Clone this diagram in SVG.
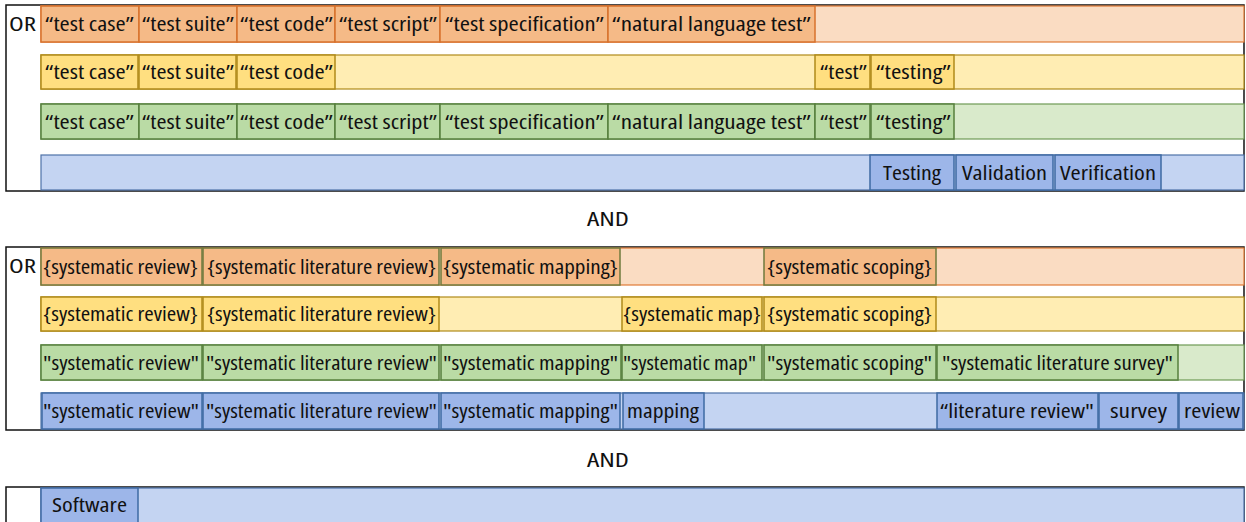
<svg xmlns="http://www.w3.org/2000/svg" width="1246" height="522" viewBox="0 0 1246 522">
<style>
text{font-family:"Open Sans","Noto Sans","Liberation Sans",sans-serif;font-size:19px;fill:#111;dominant-baseline:central;font-stretch:semi-condensed}
.frame{fill:#fff;stroke:#111;stroke-width:1.5}
.bo{fill:#FADCC2;stroke:#E07B36;stroke-width:1.2}
.co{fill:#F5BA87;stroke:#D7722C;stroke-width:1.5}
.co2{fill:#F5BA87;stroke:#6F7A3C;stroke-width:1.5}
.by{fill:#FFEDB3;stroke:#B08A1A;stroke-width:1.2}
.cy{fill:#FFDF80;stroke:#B08A1A;stroke-width:1.5}
.bg{fill:#D9EACB;stroke:#6E9A55;stroke-width:1.2}
.cg{fill:#BADBA5;stroke:#567F3D;stroke-width:1.5}
.bb{fill:#C4D4F2;stroke:#4F72A8;stroke-width:1.2}
.cb{fill:#9DB6E9;stroke:#3E6AA3;stroke-width:1.5}
</style>

<!-- Panel 1 -->
<g id="panel1">
<rect class="frame" x="6" y="5" width="1238" height="186"/>
<text x="9" y="24" textLength="27" lengthAdjust="spacingAndGlyphs">OR</text>
<rect class="bo" x="41" y="6" width="1203" height="36"/>
<rect class="by" x="41" y="55" width="1203" height="34"/>
<rect class="bg" x="41" y="104" width="1203" height="35"/>
<rect class="bb" x="41" y="155" width="1203" height="35"/>
</g>
<g id="p1r1">
<g id="p1r1c1"><rect class="co" x="41" y="6" width="98" height="36"/><text x="45" y="24" textLength="89" lengthAdjust="spacingAndGlyphs">“test case”</text></g>
<g id="p1r1c2"><rect class="co" x="139" y="6" width="98" height="36"/><text x="142" y="24" textLength="92" lengthAdjust="spacingAndGlyphs">“test suite”</text></g>
<g id="p1r1c3"><rect class="co" x="237" y="6" width="98" height="36"/><text x="240" y="24" textLength="93" lengthAdjust="spacingAndGlyphs">“test code”</text></g>
<g id="p1r1c4"><rect class="co" x="335" y="6" width="105" height="36"/><text x="339" y="24" textLength="98" lengthAdjust="spacingAndGlyphs">“test script”</text></g>
<g id="p1r1c5"><rect class="co" x="440" y="6" width="168" height="36"/><text x="445" y="24" textLength="159" lengthAdjust="spacingAndGlyphs">“test specification”</text></g>
<g id="p1r1c6"><rect class="co" x="608" y="6" width="207" height="36"/><text x="612" y="24" textLength="199" lengthAdjust="spacingAndGlyphs">“natural language test”</text></g>
</g>
<g id="p1r2">
<g id="p1r2c1"><rect class="cy" x="41" y="55" width="97" height="34"/><text x="45" y="72" textLength="89" lengthAdjust="spacingAndGlyphs">“test case”</text></g>
<g id="p1r2c2"><rect class="cy" x="139" y="55" width="97" height="34"/><text x="142" y="72" textLength="92" lengthAdjust="spacingAndGlyphs">“test suite”</text></g>
<g id="p1r2c3"><rect class="cy" x="237" y="55" width="98" height="34"/><text x="240" y="72" textLength="93" lengthAdjust="spacingAndGlyphs">“test code”</text></g>
<g id="p1r2c4"><rect class="cy" x="815" y="55" width="55" height="34"/><text x="820" y="72" textLength="47" lengthAdjust="spacingAndGlyphs">“test”</text></g>
<g id="p1r2c5"><rect class="cy" x="871" y="55" width="83" height="34"/><text x="876" y="72" textLength="75" lengthAdjust="spacingAndGlyphs">“testing”</text></g>
</g>
<g id="p1r3">
<g id="p1r3c1"><rect class="cg" x="41" y="104" width="98" height="35"/><text x="45" y="121.5" textLength="89" lengthAdjust="spacingAndGlyphs">“test case”</text></g>
<g id="p1r3c2"><rect class="cg" x="139" y="104" width="98" height="35"/><text x="142" y="121.5" textLength="92" lengthAdjust="spacingAndGlyphs">“test suite”</text></g>
<g id="p1r3c3"><rect class="cg" x="237" y="104" width="98" height="35"/><text x="240" y="121.5" textLength="93" lengthAdjust="spacingAndGlyphs">“test code”</text></g>
<g id="p1r3c4"><rect class="cg" x="335" y="104" width="105" height="35"/><text x="339" y="121.5" textLength="98" lengthAdjust="spacingAndGlyphs">“test script”</text></g>
<g id="p1r3c5"><rect class="cg" x="440" y="104" width="168" height="35"/><text x="445" y="121.5" textLength="159" lengthAdjust="spacingAndGlyphs">“test specification”</text></g>
<g id="p1r3c6"><rect class="cg" x="608" y="104" width="207" height="35"/><text x="612" y="121.5" textLength="199" lengthAdjust="spacingAndGlyphs">“natural language test”</text></g>
<g id="p1r3c7"><rect class="cg" x="815" y="104" width="55" height="35"/><text x="820" y="121.5" textLength="47" lengthAdjust="spacingAndGlyphs">“test”</text></g>
<g id="p1r3c8"><rect class="cg" x="871" y="104" width="83" height="35"/><text x="876" y="121.5" textLength="75" lengthAdjust="spacingAndGlyphs">“testing”</text></g>
</g>
<g id="p1r4">
<g id="p1r4c1"><rect class="cb" x="870" y="155" width="84" height="35"/><text x="883" y="172.5" textLength="58" lengthAdjust="spacingAndGlyphs">Testing</text></g>
<g id="p1r4c2"><rect class="cb" x="956" y="155" width="97" height="35"/><text x="962" y="172.5" textLength="85" lengthAdjust="spacingAndGlyphs">Validation</text></g>
<g id="p1r4c3"><rect class="cb" x="1055" y="155" width="106" height="35"/><text x="1060" y="172.5" textLength="96" lengthAdjust="spacingAndGlyphs">Verification</text></g>
</g>

<g id="and1"><text x="587" y="219" textLength="42" lengthAdjust="spacingAndGlyphs">AND</text></g>

<!-- Panel 2 -->
<g id="panel2">
<rect class="frame" x="6" y="247" width="1238" height="183"/>
<text x="9" y="266" textLength="27" lengthAdjust="spacingAndGlyphs">OR</text>
<rect class="bo" x="41" y="248" width="1203" height="37"/>
<rect class="by" x="41" y="297" width="1203" height="34"/>
<rect class="bg" x="41" y="345" width="1203" height="35"/>
<rect class="bb" x="41" y="393" width="1203" height="36"/>
</g>
<g id="p2r1">
<g id="p2r1c1"><rect class="co2" x="41" y="248" width="161" height="37"/><text x="43" y="266.5" textLength="155" lengthAdjust="spacingAndGlyphs">{systematic review}</text></g>
<g id="p2r1c2"><rect class="co2" x="203" y="248" width="236" height="37"/><text x="207" y="266.5" textLength="229" lengthAdjust="spacingAndGlyphs">{systematic literature review}</text></g>
<g id="p2r1c3"><rect class="co2" x="441" y="248" width="179" height="37"/><text x="443" y="266.5" textLength="175" lengthAdjust="spacingAndGlyphs">{systematic mapping}</text></g>
<g id="p2r1c4"><rect class="co2" x="764" y="248" width="172" height="37"/><text x="767" y="266.5" textLength="165" lengthAdjust="spacingAndGlyphs">{systematic scoping}</text></g>
</g>
<g id="p2r2">
<g id="p2r2c1"><rect class="cy" x="41" y="297" width="161" height="34"/><text x="43" y="314" textLength="155" lengthAdjust="spacingAndGlyphs">{systematic review}</text></g>
<g id="p2r2c2"><rect class="cy" x="203" y="297" width="236" height="34"/><text x="207" y="314" textLength="229" lengthAdjust="spacingAndGlyphs">{systematic literature review}</text></g>
<g id="p2r2c3"><rect class="cy" x="622" y="297" width="140" height="34"/><text x="623" y="314" textLength="138" lengthAdjust="spacingAndGlyphs">{systematic map}</text></g>
<g id="p2r2c4"><rect class="cy" x="764" y="297" width="172" height="34"/><text x="767" y="314" textLength="165" lengthAdjust="spacingAndGlyphs">{systematic scoping}</text></g>
</g>
<g id="p2r3">
<g id="p2r3c1"><rect class="cg" x="41" y="345" width="161" height="35"/><text x="43" y="362.5" textLength="156" lengthAdjust="spacingAndGlyphs">"systematic review"</text></g>
<g id="p2r3c2"><rect class="cg" x="203" y="345" width="236" height="35"/><text x="206" y="362.5" textLength="231" lengthAdjust="spacingAndGlyphs">"systematic literature review"</text></g>
<g id="p2r3c3"><rect class="cg" x="441" y="345" width="180" height="35"/><text x="443" y="362.5" textLength="175" lengthAdjust="spacingAndGlyphs">"systematic mapping"</text></g>
<g id="p2r3c4"><rect class="cg" x="622" y="345" width="140" height="35"/><text x="623" y="362.5" textLength="133" lengthAdjust="spacingAndGlyphs">"systematic map"</text></g>
<g id="p2r3c5"><rect class="cg" x="764" y="345" width="172" height="35"/><text x="767" y="362.5" textLength="165" lengthAdjust="spacingAndGlyphs">"systematic scoping"</text></g>
<g id="p2r3c6"><rect class="cg" x="937" y="345" width="241" height="35"/><text x="942" y="362.5" textLength="231" lengthAdjust="spacingAndGlyphs">"systematic literature survey"</text></g>
</g>
<g id="p2r4">
<g id="p2r4c1"><rect class="cb" x="42" y="393" width="160" height="36"/><text x="43" y="411" textLength="156" lengthAdjust="spacingAndGlyphs">"systematic review"</text></g>
<g id="p2r4c2"><rect class="cb" x="203" y="393" width="236" height="36"/><text x="206" y="411" textLength="231" lengthAdjust="spacingAndGlyphs">"systematic literature review"</text></g>
<g id="p2r4c3"><rect class="cb" x="441" y="393" width="179" height="36"/><text x="443" y="411" textLength="175" lengthAdjust="spacingAndGlyphs">"systematic mapping"</text></g>
<g id="p2r4c4"><rect class="cb" x="623" y="393" width="81" height="36"/><text x="627" y="411" textLength="72" lengthAdjust="spacingAndGlyphs">mapping</text></g>
<g id="p2r4c5"><rect class="cb" x="937" y="393" width="161" height="36"/><text x="940" y="411" textLength="154" lengthAdjust="spacingAndGlyphs">“literature review"</text></g>
<g id="p2r4c6"><rect class="cb" x="1099" y="393" width="79" height="36"/><text x="1110" y="411" textLength="57" lengthAdjust="spacingAndGlyphs">survey</text></g>
<g id="p2r4c7"><rect class="cb" x="1179" y="393" width="64" height="36"/><text x="1184" y="411" textLength="56" lengthAdjust="spacingAndGlyphs">review</text></g>
</g>

<g id="and2"><text x="587" y="460" textLength="42" lengthAdjust="spacingAndGlyphs">AND</text></g>

<!-- Panel 3 -->
<g id="panel3">
<rect class="frame" x="6" y="487" width="1238" height="45"/>
<rect class="bb" x="41" y="488" width="1203" height="44"/>
</g>
<g id="p3r1c1"><rect class="cb" x="41" y="488" width="97" height="44"/><text x="52" y="505" textLength="75" lengthAdjust="spacingAndGlyphs">Software</text></g>
</svg>
